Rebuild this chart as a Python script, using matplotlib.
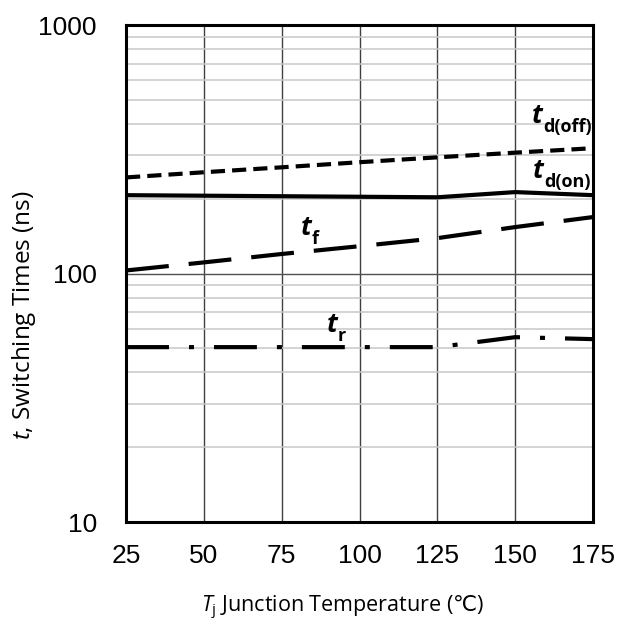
import matplotlib
matplotlib.use('Agg')
import matplotlib.pyplot as plt
from matplotlib.ticker import FixedLocator, NullFormatter, LogLocator

# ----- Data -----
temps = [25, 50, 75, 100, 125, 150, 175]
td_off = [244, 256, 268, 281, 294, 307, 320]
td_on = [207, 206, 205, 204, 203, 213, 207]
t_f = [103, 111, 120, 129, 139, 154, 169]
t_r = [50.6, 50.6, 50.6, 50.6, 50.6, 55.5, 54.5]

xticks = [25, 50, 75, 100, 125, 150, 175]
yticks = [10, 100, 1000]

plt.rcParams['font.family'] = 'Liberation Sans'
plt.rcParams['mathtext.fontset'] = 'custom'
plt.rcParams['mathtext.rm'] = 'Open Sans'
plt.rcParams['mathtext.it'] = 'Open Sans:italic'
plt.rcParams['mathtext.sf'] = 'DejaVu Sans'

fig = plt.figure(figsize=(6.21, 6.32), dpi=100)
ax = fig.add_axes([0.203, 0.174, 0.752, 0.786])

ax.set_yscale('log')
ax.set_xlim(25, 175)
ax.set_ylim(10, 1000)

# ----- Grid -----
ax.yaxis.set_minor_locator(LogLocator(base=10, subs=range(2, 10)))
ax.yaxis.set_minor_formatter(NullFormatter())
ax.grid(which='minor', axis='y', color='#c8c8c8', linewidth=1.1)
ax.grid(which='major', axis='y', color='#505050', linewidth=1.0)
ax.grid(which='major', axis='x', color='#404040', linewidth=1.0)
ax.set_axisbelow(True)

# ----- Curves -----
lw = 3.0
ax.plot(temps, td_off, color='black', lw=lw, dashes=(3.4, 1.7))
ax.plot(temps, td_on, color='black', lw=lw)
ax.plot(temps, t_f, color='black', lw=lw, dashes=(10.3, 4.8))
ax.plot(temps, t_r, color='black', lw=lw, dashes=(10.3, 4.8, 1.2, 4.8))

# ----- Curve labels -----
def curve_label(x, y, sub):
    ax.annotate('t', (x, y), xycoords='data', fontsize=19, fontweight='bold',
                fontstyle='italic', family='Open Sans', ha='left', va='baseline')
    ax.annotate(sub, (x, y), xycoords='data', xytext=(8, -6.5), textcoords='offset points',
                fontsize=13, fontweight='bold', family='Open Sans', ha='left', va='baseline')

curve_label(155.4, 403, 'd(off)')
curve_label(155.7, 242, 'd(on)')
curve_label(81, 143, 'f')
curve_label(89.5, 58, 'r')

# ----- Ticks and labels -----
ax.xaxis.set_major_locator(FixedLocator(xticks))
ax.yaxis.set_major_locator(FixedLocator(yticks))
ax.set_xticklabels([str(t) for t in xticks])
ax.set_yticklabels([str(t) for t in yticks])
ax.tick_params(which='both', length=0, labelsize=19)
ax.tick_params(axis='x', which='major', pad=16)
ax.tick_params(axis='y', which='major', pad=21)

for s in ax.spines.values():
    s.set_linewidth(2.2)

ax.set_ylabel(r'$\it{t}$, Switching Times (ns)', fontsize=17.5, family='Open Sans')
ax.yaxis.set_label_coords(-0.188, 0.417)
ax.set_xlabel(r'$T_{\rm j}$ Junction Temperature ($\mathsf{℃}$)', fontsize=15.5,
              family='Open Sans')
ax.xaxis.set_label_coords(0.463, -0.145)

fig.savefig('out.png', dpi=100)
